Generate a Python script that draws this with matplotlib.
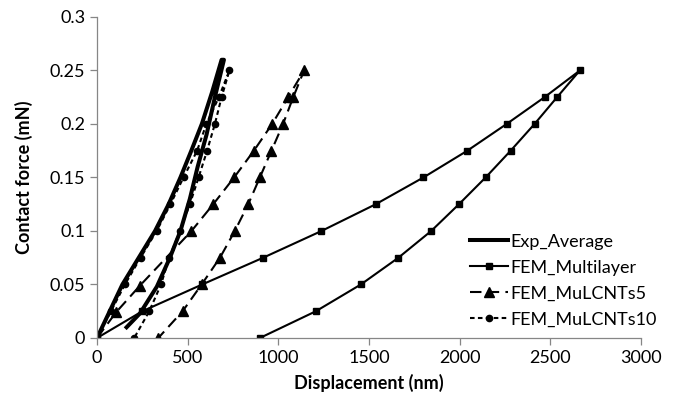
import matplotlib
matplotlib.use("Agg")
import matplotlib.pyplot as plt

plt.rcParams['font.family'] = ['Lato', 'DejaVu Sans']

# Exp_Average (loading + unloading)
exp_x = [0, 70, 140, 230, 320, 395, 460, 520, 578, 635, 687,
         700, 650, 604, 555, 512, 460, 402, 330, 237, 163]
exp_y = [0, 0.025, 0.05, 0.075, 0.1, 0.125, 0.15, 0.175, 0.2, 0.23, 0.26,
         0.26, 0.225, 0.19, 0.16, 0.13, 0.1, 0.075, 0.048, 0.023, 0.01]

# FEM_Multilayer
ml_x = [0, 250, 580, 916, 1238, 1537, 1800, 2042, 2259, 2468, 2663,
        2537, 2413, 2281, 2143, 1996, 1843, 1662, 1455, 1207, 898]
ml_y = [0, 0.025, 0.05, 0.075, 0.1, 0.125, 0.15, 0.175, 0.2, 0.225, 0.25,
        0.225, 0.2, 0.175, 0.15, 0.125, 0.1, 0.075, 0.05, 0.025, 0]

# FEM_MuLCNTs5
c5_x = [0, 105, 237, 521, 641, 756, 865, 966, 1054, 1142,
        1082, 1026, 962, 898, 834, 760, 678, 577, 472, 338]
c5_y = [0, 0.024, 0.049, 0.1, 0.125, 0.15, 0.175, 0.2, 0.225, 0.25,
        0.225, 0.2, 0.175, 0.15, 0.125, 0.1, 0.075, 0.05, 0.025, 0]

# FEM_MuLCNTs10
c10_x = [0, 77, 154, 240, 329, 405, 477, 552, 603, 672, 730,
         687, 650, 607, 560, 512, 457, 398, 353, 288, 205]
c10_y = [0, 0.025, 0.05, 0.075, 0.1, 0.125, 0.15, 0.175, 0.2, 0.225, 0.25,
         0.225, 0.2, 0.175, 0.15, 0.125, 0.1, 0.075, 0.05, 0.025, 0]

fig = plt.figure(figsize=(6.77, 4.08), dpi=100)
ax = fig.add_axes([0.1433, 0.1716, 0.8035, 0.7868])

ax.plot(exp_x, exp_y, color="black", lw=2.9, label="Exp_Average", solid_joinstyle="round")
ax.plot(ml_x, ml_y, color="black", lw=1.5, marker="s", ms=4.5, label="FEM_Multilayer")
ax.plot(c5_x, c5_y, color="black", lw=1.5, marker="^", ms=7, dashes=(5.5, 3),
        label="FEM_MuLCNTs5")
ax.plot(c10_x, c10_y, color="black", lw=1.5, marker="o", ms=4.5, dashes=(2.2, 1.6),
        label="FEM_MuLCNTs10")

ax.set_xlim(0, 3000)
ax.set_ylim(0, 0.3)
ax.set_xticks([0, 500, 1000, 1500, 2000, 2500, 3000])
ax.set_yticks([0, 0.05, 0.1, 0.15, 0.2, 0.25, 0.3])
ax.set_yticklabels(["0", "0.05", "0.1", "0.15", "0.2", "0.25", "0.3"])

for s in ["top", "right"]:
    ax.spines[s].set_visible(False)
for s in ["left", "bottom"]:
    ax.spines[s].set_color("#868686")
    ax.spines[s].set_linewidth(0.9)
ax.tick_params(colors="#868686", labelcolor="black", labelsize=13, length=5, width=0.9)

ax.set_xlabel("Displacement (nm)", fontsize=13, fontweight="bold", labelpad=6)
ax.set_ylabel("Contact force (mN)", fontsize=13, fontweight="bold", labelpad=12)

ax.legend(loc="upper left", bbox_to_anchor=(0.686, 0.325), frameon=False, fontsize=13,
          handlelength=2.1, handletextpad=0.15, labelspacing=0.55,
          borderpad=0, borderaxespad=0)

fig.savefig("out.png", dpi=100)
